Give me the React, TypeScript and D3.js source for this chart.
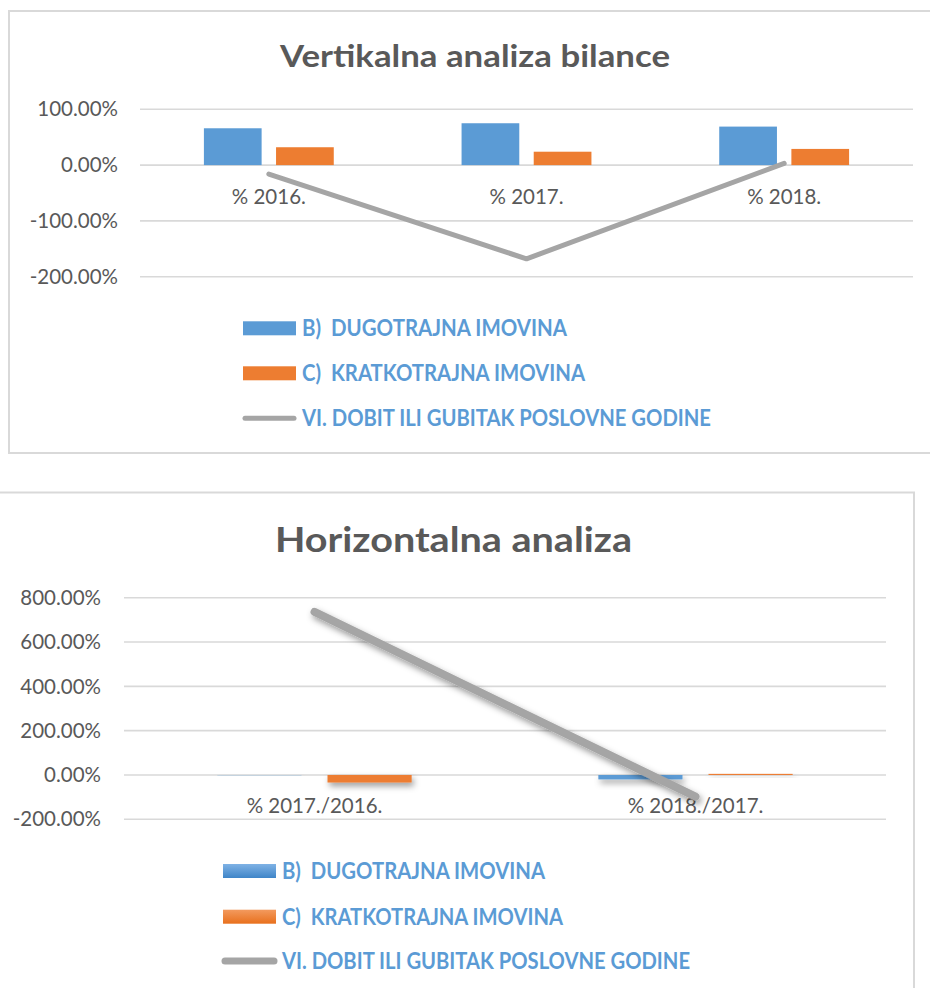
import React, { useEffect, useRef } from "react";
import * as d3 from "d3";

// podaci ocitani s grafikona
const seriesNames = [
  "B)  DUGOTRAJNA IMOVINA",
  "C)  KRATKOTRAJNA IMOVINA",
  "VI. DOBIT ILI GUBITAK POSLOVNE GODINE",
];

const vertCategories = ["% 2016.", "% 2017.", "% 2018."];
const vertDugotrajna = [66, 75, 69];
const vertKratkotrajna = [32, 24, 29];
const vertDobit = [-16, -168, 3];
const vertTicks = [-200, -100, 0, 100];

const horizCategories = ["% 2017./2016.", "% 2018./2017."];
const horizDugotrajna = [-1, -20];
const horizKratkotrajna = [-34, 5];
const horizDobit = [736, -98];
const horizTicks = [-200, 0, 200, 400, 600, 800];

const BLUE = "#5B9BD5";
const ORANGE = "#ED7D31";
const GRAY = "#A5A5A5";
const TEXT = "#595959";
const FONT = "Lato, 'Open Sans', sans-serif";

const drawChart = (svg: any, c: any) => {
  const g = svg.append("g");

  g.append("rect")
    .attr("x", c.border[0])
    .attr("y", c.border[1])
    .attr("width", c.border[2])
    .attr("height", c.border[3])
    .attr("fill", "#fff")
    .attr("stroke", "#d9d9d9")
    .attr("stroke-width", 2);

  g.append("text")
    .attr("x", c.titleX)
    .attr("y", c.titleY)
    .attr("text-anchor", "middle")
    .attr("font-size", c.titleSize)
    .attr("font-weight", "bold")
    .attr("fill", TEXT)
    .attr("textLength", c.titleWidth)
    .attr("lengthAdjust", "spacingAndGlyphs")
    .text(c.title);

  const y = d3.scaleLinear().domain(c.yDomain).range(c.yRange);

  // mreza i oznake osi
  g.selectAll("line.grid")
    .data(c.ticks)
    .enter()
    .append("line")
    .attr("class", "grid")
    .attr("x1", c.xRange[0])
    .attr("x2", c.xRange[1])
    .attr("y1", (d: number) => y(d))
    .attr("y2", (d: number) => y(d))
    .attr("stroke", "#d9d9d9")
    .attr("stroke-width", 1.6);

  g.selectAll("text.tick")
    .data(c.ticks)
    .enter()
    .append("text")
    .attr("class", "tick")
    .attr("x", c.tickRight)
    .attr("y", (d: number) => y(d))
    .attr("dy", "0.35em")
    .attr("text-anchor", "end")
    .attr("font-size", 20.5)
    .attr("fill", TEXT)
    .text((d: number) => `${d.toFixed(2)}%`);

  const x0 = d3
    .scaleBand()
    .domain(c.categories)
    .range(c.xRange)
    .paddingInner(c.groupPad)
    .paddingOuter(c.groupPad / 2);
  const keys = ["b", "c"];
  const x1 = d3
    .scaleBand()
    .domain(keys)
    .range([0, x0.bandwidth()])
    .paddingInner(c.barPad);

  const barData: any[] = [];
  c.bars.forEach((vals: number[], si: number) => {
    vals.forEach((v, i) => barData.push({ key: keys[si], cat: c.categories[i], v }));
  });

  g.selectAll("rect.bar")
    .data(barData)
    .enter()
    .append("rect")
    .attr("class", "bar")
    .attr("x", (d: any) => x0(d.cat)! + x1(d.key)!)
    .attr("y", (d: any) => Math.min(y(d.v), y(0)))
    .attr("width", x1.bandwidth())
    .attr("height", (d: any) => Math.abs(y(d.v) - y(0)))
    .attr("fill", (d: any) => (d.key === "b" ? BLUE : ORANGE))
    .attr("filter", c.shadow ? "url(#shadow)" : null);

  g.selectAll("text.cat")
    .data(c.categories)
    .enter()
    .append("text")
    .attr("class", "cat")
    .attr("x", (d: string) => x0(d)! + x0.bandwidth() / 2)
    .attr("y", c.catLabelY)
    .attr("text-anchor", "middle")
    .attr("font-size", 20.5)
    .attr("fill", TEXT)
    .text((d: string) => d);

  const line = d3
    .line<number>()
    .x((d, i) => x0(c.categories[i])! + x0.bandwidth() / 2)
    .y((d) => y(d));

  g.append("path")
    .datum(c.line)
    .attr("d", line)
    .attr("fill", "none")
    .attr("stroke", GRAY)
    .attr("stroke-width", c.lineWidth)
    .attr("stroke-linecap", "round")
    .attr("stroke-linejoin", "round")
    .attr("filter", c.shadow ? "url(#shadow)" : null);

  // legenda
  const leg = g
    .selectAll("g.leg")
    .data(seriesNames)
    .enter()
    .append("g")
    .attr("class", "leg")
    .attr("transform", (d: string, i: number) => `translate(0, ${c.legendY[i]})`);

  leg
    .filter((d: string, i: number) => i < 2)
    .append("rect")
    .attr("x", c.legendX)
    .attr("y", -7)
    .attr("width", 53)
    .attr("height", 14)
    .attr("fill", (d: string, i: number) =>
      c.shadow ? `url(#grad${i})` : i === 0 ? BLUE : ORANGE
    );

  leg
    .filter((d: string, i: number) => i === 2)
    .append("line")
    .attr("x1", c.legendX + 2)
    .attr("x2", c.legendX + 51)
    .attr("stroke", GRAY)
    .attr("stroke-width", c.legendLineWidth)
    .attr("stroke-linecap", "round");

  leg
    .append("text")
    .attr("x", c.legendTextX)
    .attr("y", 8)
    .attr("font-size", 22)
    .attr("font-weight", "bold")
    .attr("fill", BLUE)
    .style("white-space", "pre")
    .attr("textLength", (d: string, i: number) => c.legendWidths[i])
    .attr("lengthAdjust", "spacingAndGlyphs")
    .text((d: string) => d);
};

const App = () => {
  const ref = useRef<SVGSVGElement>(null);

  useEffect(() => {
    const svg = d3.select(ref.current);
    svg.selectAll("*").remove();
    svg.style("font-family", FONT);

    const defs = svg.append("defs");
    defs
      .append("filter")
      .attr("id", "shadow")
      .attr("x", "-20%")
      .attr("y", "-50%")
      .attr("width", "140%")
      .attr("height", "400%")
      .append("feDropShadow")
      .attr("dx", 2)
      .attr("dy", 3.5)
      .attr("stdDeviation", 3)
      .attr("flood-color", "#000")
      .attr("flood-opacity", 0.4);
    [
      ["#7fb2e5", "#3f85c8"],
      ["#f39a5e", "#e8701d"],
    ].forEach((cols, i) => {
      const gr = defs
        .append("linearGradient")
        .attr("id", `grad${i}`)
        .attr("x1", 0)
        .attr("y1", 0)
        .attr("x2", 0)
        .attr("y2", 1);
      gr.append("stop").attr("offset", "0%").attr("stop-color", cols[0]);
      gr.append("stop").attr("offset", "100%").attr("stop-color", cols[1]);
    });

    drawChart(svg, {
      border: [9, 11, 940, 442],
      title: "Vertikalna analiza bilance",
      titleX: 475,
      titleY: 67,
      titleSize: 30,
      titleWidth: 390,
      categories: vertCategories,
      bars: [vertDugotrajna, vertKratkotrajna],
      line: vertDobit,
      ticks: vertTicks,
      yDomain: [-200, 100],
      yRange: [276.7, 109.3],
      xRange: [140, 913],
      groupPad: 0.496,
      barPad: 0.2,
      tickRight: 118,
      catLabelY: 204,
      lineWidth: 5,
      legendLineWidth: 5,
      legendX: 243,
      legendTextX: 302,
      legendY: [328.3, 373.3, 418.3],
      legendWidths: [265, 283, 409],
      shadow: false,
    });

    drawChart(svg, {
      border: [-5, 492.5, 919, 600],
      title: "Horizontalna analiza",
      titleX: 453.5,
      titleY: 552,
      titleSize: 35,
      titleWidth: 357,
      categories: horizCategories,
      bars: [horizDugotrajna, horizKratkotrajna],
      line: horizDobit,
      ticks: horizTicks,
      yDomain: [-200, 800],
      yRange: [819.3, 597.7],
      xRange: [124, 886],
      groupPad: 0.49,
      barPad: 0.236,
      tickRight: 101,
      catLabelY: 813,
      lineWidth: 8,
      legendLineWidth: 7,
      legendX: 223,
      legendTextX: 282,
      legendY: [871, 916.7, 961],
      legendWidths: [263, 281, 408],
      shadow: true,
    });
  }, []);

  return (
    <svg
      ref={ref}
      width={930}
      height={988}
      style={{ position: "absolute", left: 0, top: 0, background: "#fff" }}
    ></svg>
  );
};

export default App;
